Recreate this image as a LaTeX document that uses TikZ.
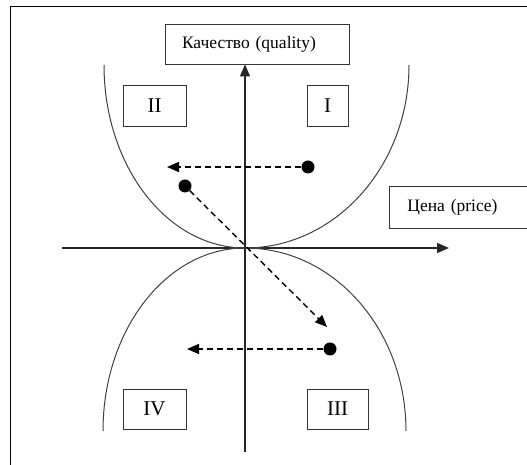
\documentclass[tikz,border=0pt]{standalone}
\usepackage{fontspec}
\setmainfont{Liberation Serif}
\usetikzlibrary{arrows.meta}

\tikzset{
  caixa/.style={draw=black!80, line width=0.9pt, inner sep=0pt, font=\fontsize{17.5}{20}\selectfont},
  quadrante/.style={caixa, minimum height=41pt, font=\fontsize{21}{24}\selectfont},
  eixo/.style={line width=1.4pt, black!85, -{Triangle[length=12pt,width=10pt]}},
  curva/.style={line width=1pt, black!75},
  ponto/.style={circle, fill=black, inner sep=0pt, minimum size=13pt},
  seta/.style={line width=1.4pt, dash pattern=on 6pt off 4pt, -{Triangle[length=12pt,width=10pt]}},
}

\begin{document}
\begin{tikzpicture}[x=1pt,y=1pt]
    \useasboundingbox (0,0) rectangle (527,465);

    % Moldura
    \draw[line width=1pt] (10,0) -- (10,458) -- (527,458);

    % Pontos dos eixos
    \coordinate (O) at (245,217);
    \coordinate (Xa) at (62,217);
    \coordinate (Xb) at (449,217);
    \coordinate (Ya) at (245,13);

    % Nome dos eixos
    \node[caixa, minimum height=40pt, text width=150pt, inner xsep=17pt, align=left] (Q) at (257,421) {Качество (quality)};
    \node[caixa, anchor=west, minimum height=42pt, text width=140pt, inner xsep=18pt, align=left] (P) at (389,258) {Цена (price)};

    % Eixos
    \draw[eixo] (Xa) -- (Xb);
    \draw[eixo] (Ya) -- (Ya |- Q.south);

    % Curvas
    \draw[curva] (104,400) arc[start angle=180, end angle=270, x radius=141, y radius=183]
                 arc[start angle=270, end angle=360, x radius=164, y radius=183];
    \draw[curva] (103,34) arc[start angle=180, end angle=90, x radius=142, y radius=183]
                 arc[start angle=90, end angle=0, x radius=161, y radius=183];

    % Quadrantes
    \node[quadrante, minimum width=63pt] (qII) at (154.5,359.5) {II};
    \node[quadrante, minimum width=41pt] (qI) at (327.5,359.5) {I};
    \node[quadrante, minimum width=63pt, minimum height=40pt] (qIV) at (154.5,56) {IV};
    \node[quadrante, minimum width=61pt, minimum height=40pt] (qIII) at (337.5,56) {III};

    % Pontos e setas
    \node[ponto] (D1) at (308,298) {};
    \node[ponto] (D2) at (185,279) {};
    \node[ponto] (D3) at (330,116) {};
    \coordinate (T1) at (167,298);
    \coordinate (T2) at (327,138);
    \coordinate (T3) at (187,116);
    \draw[seta] (D1) -- (T1);
    \draw[seta] (D2) -- (T2);
    \draw[seta] (D3) -- (T3);

\end{tikzpicture}
\end{document}
